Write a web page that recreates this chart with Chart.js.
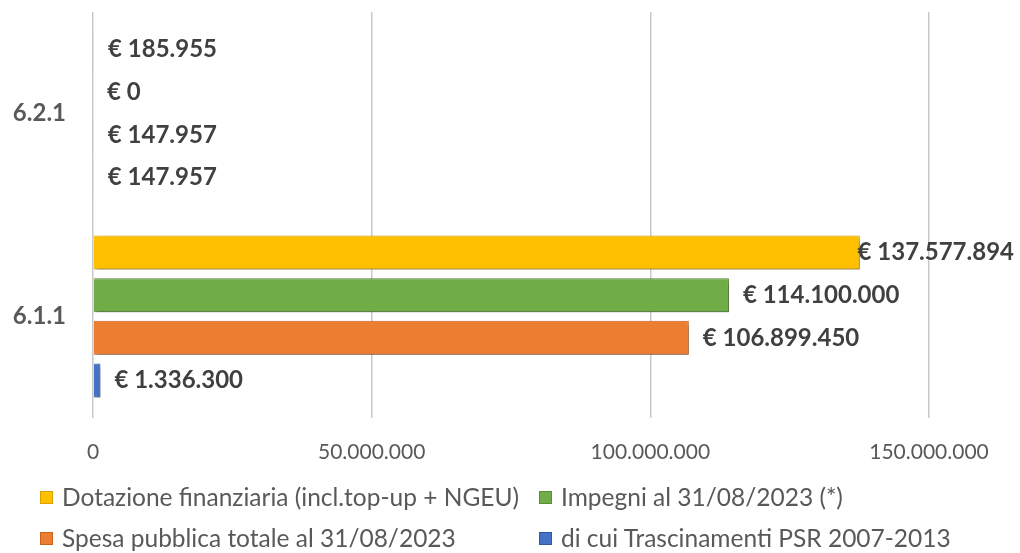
<!DOCTYPE html>
<html lang="it">
<head>
<meta charset="utf-8">
<script src="https://cdn.jsdelivr.net/npm/chart.js@4"></script>
<style>
    body { margin: 0; background: #ffffff; overflow: hidden; }
    #wrap { position: relative; width: 1020px; height: 553px; }
    #legend { position: absolute; left: 0; top: 478px; width: 1020px; font-family: Lato, sans-serif; font-size: 24.5px; color: #595959; }
    .item { position: absolute; white-space: nowrap; line-height: 28px; }
    .box { position: absolute; left: 0; top: 8px; width: 13px; height: 13px; box-sizing: border-box; }
    .item span.txt { position: absolute; left: 22px; top: 0; }
</style>
</head>
<body>
<div id="wrap">
    <canvas id="chart" width="1020" height="553"></canvas>
    <div id="legend"></div>
</div>
<script>
"use strict";

// dati
const categories = ['6.2.1', '6.1.1'];
const seriesNames = [
    'Dotazione finanziaria (incl.top-up + NGEU)',
    'Impegni al 31/08/2023 (*)',
    'Spesa pubblica totale al 31/08/2023',
    'di cui Trascinamenti PSR 2007-2013'
];
const dotazione = [185955, 137577894];
const impegni = [0, 114100000];
const spesa = [147957, 106899450];
const trascinamenti = [147957, 1336300];
const xTicks = [0, 50000000, 100000000, 150000000];

const colors = ['#FFC000', '#70AD47', '#ED7D31', '#4472C4'];
const borders = ['#d9a200', '#5a8f38', '#c8621f', '#3559a0'];

// numero con punti delle migliaia
function formatIt(n) {
    return String(Math.round(n)).replace(/\B(?=(\d{3})+(?!\d))/g, '.');
}

const valueLabels = {
    id: 'valueLabels',
    beforeDatasetsDraw(chart) {
        const ctx = chart.ctx;
        ctx.save();
        ctx.shadowColor = 'rgba(0, 0, 0, 0.35)';
        ctx.shadowOffsetX = 2;
        ctx.shadowOffsetY = 3;
        ctx.shadowBlur = 4;
    },
    afterDatasetsDraw(chart) {
        const ctx = chart.ctx;
        ctx.restore();
        ctx.save();
        ctx.font = 'bold 24px Lato, sans-serif';
        ctx.fillStyle = '#404040';
        ctx.textBaseline = 'middle';
        chart.data.datasets.forEach((ds, i) => {
            const meta = chart.getDatasetMeta(i);
            meta.data.forEach((bar, j) => {
                const text = '€ ' + formatIt(ds.data[j]);
                const w = ctx.measureText(text).width;
                let x = bar.x + 14;
                if (x + w > chart.width - 6) {
                    x = chart.width - 6 - w;
                }
                ctx.fillText(text, x, bar.y);
            });
        });
        ctx.restore();
    }
};

const seriesData = [dotazione, impegni, spesa, trascinamenti];

const chart = new Chart(document.getElementById('chart'), {
    type: 'bar',
    data: {
        labels: categories,
        datasets: seriesData.map((data, i) => ({
            label: seriesNames[i],
            data,
            backgroundColor: colors[i],
            borderColor: borders[i],
            borderWidth: 1,
            categoryPercentage: 0.84,
            barPercentage: 0.8
        }))
    },
    options: {
        indexAxis: 'y',
        responsive: false,
        animation: false,
        layout: { padding: { top: 12, right: 91, left: 0, bottom: 0 } },
        plugins: {
            legend: { display: false },
            tooltip: { enabled: false }
        },
        scales: {
            x: {
                min: 0,
                max: 150000000,
                afterBuildTicks: axis => { axis.ticks = xTicks.map(v => ({ value: v })); },
                afterFit: axis => { axis.height = 135; },
                grid: { color: '#c8c8c8', lineWidth: 1.5, drawTicks: false },
                border: { display: false },
                ticks: {
                    padding: 22,
                    color: '#595959',
                    font: { family: 'Lato', size: 21 },
                    callback: v => formatIt(v)
                }
            },
            y: {
                afterFit: axis => {
                    axis.width = 93;
                    axis.paddingTop = 0;
                    axis.paddingBottom = 0;
                },
                grid: { display: false, drawTicks: false },
                border: { display: false },
                ticks: {
                    padding: 27,
                    color: '#595959',
                    font: { family: 'Lato', size: 24, weight: 'bold' }
                }
            }
        }
    },
    plugins: [valueLabels]
});

// legenda a due colonne
const legend = document.getElementById('legend');
const legendPos = [[40, 5], [539, 5], [40, 46], [539, 46]];
chart.data.datasets.forEach((ds, i) => {
    const item = document.createElement('div');
    item.className = 'item';
    item.style.left = legendPos[i][0] + 'px';
    item.style.top = legendPos[i][1] + 'px';
    const box = document.createElement('span');
    box.className = 'box';
    box.style.background = ds.backgroundColor;
    box.style.border = '1px solid ' + ds.borderColor;
    const txt = document.createElement('span');
    txt.className = 'txt';
    txt.textContent = ds.label;
    item.appendChild(box);
    item.appendChild(txt);
    legend.appendChild(item);
});
</script>
</body>
</html>
